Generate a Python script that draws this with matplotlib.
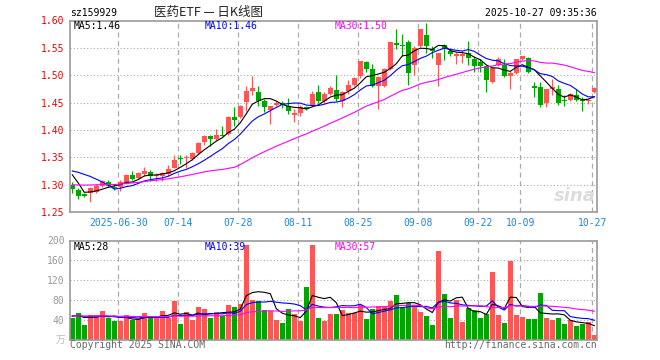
import numpy as np
import pandas as pd
import matplotlib.pyplot as plt

# sz159929 daily bars, 88 sessions ending 2025-10-27
opens = [1.300, 1.290, 1.283, 1.284, 1.287, 1.298, 1.305, 1.296, 1.296, 1.302,
         1.318, 1.312, 1.319, 1.323, 1.315, 1.315, 1.320, 1.331, 1.348, 1.348,
         1.346, 1.358, 1.378, 1.389, 1.384, 1.390, 1.393, 1.423, 1.423, 1.451,
         1.471, 1.469, 1.452, 1.436, 1.445, 1.450, 1.443, 1.428, 1.431, 1.441,
         1.444, 1.470, 1.452, 1.466, 1.473, 1.453, 1.471, 1.483, 1.498, 1.524,
         1.511, 1.480, 1.480, 1.511, 1.559, 1.556, 1.560, 1.519, 1.553, 1.574,
         1.548, 1.518, 1.555, 1.544, 1.536, 1.536, 1.541, 1.530, 1.524, 1.516,
         1.487, 1.518, 1.518, 1.498, 1.504, 1.529, 1.532, 1.481, 1.478, 1.449,
         1.475, 1.474, 1.455, 1.454, 1.463, 1.454, 1.452, 1.469]
highs = [1.304, 1.293, 1.285, 1.296, 1.301, 1.309, 1.309, 1.301, 1.309, 1.320,
         1.325, 1.323, 1.333, 1.326, 1.321, 1.324, 1.335, 1.354, 1.354, 1.354,
         1.359, 1.378, 1.391, 1.390, 1.402, 1.408, 1.425, 1.441, 1.446, 1.480,
         1.498, 1.481, 1.456, 1.444, 1.452, 1.453, 1.459, 1.438, 1.446, 1.444,
         1.472, 1.483, 1.470, 1.481, 1.501, 1.472, 1.492, 1.497, 1.526, 1.526,
         1.521, 1.499, 1.513, 1.560, 1.585, 1.576, 1.565, 1.553, 1.585, 1.595,
         1.553, 1.541, 1.557, 1.550, 1.543, 1.544, 1.563, 1.535, 1.529, 1.518,
         1.514, 1.533, 1.529, 1.507, 1.530, 1.536, 1.533, 1.487, 1.487, 1.475,
         1.493, 1.483, 1.463, 1.467, 1.474, 1.460, 1.457, 1.478]
lows = [1.284, 1.274, 1.278, 1.269, 1.285, 1.296, 1.295, 1.291, 1.289, 1.301,
        1.309, 1.310, 1.316, 1.307, 1.306, 1.307, 1.316, 1.330, 1.338, 1.331,
        1.345, 1.356, 1.372, 1.371, 1.382, 1.388, 1.390, 1.408, 1.422, 1.434,
        1.463, 1.444, 1.433, 1.411, 1.443, 1.440, 1.429, 1.415, 1.425, 1.437,
        1.443, 1.450, 1.450, 1.464, 1.452, 1.442, 1.466, 1.481, 1.495, 1.505,
        1.478, 1.439, 1.478, 1.510, 1.548, 1.535, 1.482, 1.501, 1.552, 1.541,
        1.532, 1.480, 1.527, 1.535, 1.521, 1.522, 1.518, 1.506, 1.506, 1.470,
        1.486, 1.516, 1.496, 1.474, 1.503, 1.527, 1.504, 1.461, 1.442, 1.441,
        1.463, 1.445, 1.444, 1.452, 1.452, 1.434, 1.447, 1.467]
closes = [1.292, 1.280, 1.280, 1.293, 1.298, 1.307, 1.298, 1.293, 1.305, 1.318,
          1.310, 1.321, 1.325, 1.315, 1.317, 1.321, 1.329, 1.345, 1.346, 1.350,
          1.358, 1.376, 1.389, 1.384, 1.391, 1.389, 1.423, 1.419, 1.444, 1.472,
          1.477, 1.452, 1.441, 1.444, 1.450, 1.446, 1.435, 1.431, 1.441, 1.438,
          1.466, 1.453, 1.466, 1.477, 1.456, 1.470, 1.483, 1.495, 1.526, 1.512,
          1.481, 1.497, 1.511, 1.560, 1.556, 1.553, 1.504, 1.550, 1.584, 1.553,
          1.544, 1.541, 1.548, 1.539, 1.539, 1.539, 1.532, 1.516, 1.516, 1.491,
          1.513, 1.529, 1.498, 1.504, 1.529, 1.536, 1.505, 1.477, 1.446, 1.474,
          1.478, 1.449, 1.453, 1.466, 1.455, 1.452, 1.455, 1.476]
# volume, 万手
volumes = [45, 55, 30, 51, 51, 58, 45, 38, 38, 51,
           41, 42, 54, 46, 47, 58, 45, 79, 32, 56,
           40, 66, 62, 44, 56, 49, 70, 66, 72, 190,
           80, 79, 60, 58, 40, 34, 62, 52, 39, 106,
           190, 44, 39, 52, 52, 60, 55, 55, 70, 42,
           62, 68, 68, 78, 90, 66, 75, 68, 57, 48,
           30, 178, 92, 45, 81, 36, 65, 60, 45, 53,
           137, 50, 34, 158, 50, 46, 42, 42, 95, 44,
           40, 44, 32, 41, 28, 32, 36, 10]

# sessions before the window (estimated from where the MA lines start)
prior_closes = [1.292, 1.288, 1.285, 1.290, 1.294, 1.296, 1.291, 1.284, 1.280, 1.283,
                1.286, 1.282, 1.279, 1.281, 1.285, 1.288, 1.292, 1.290, 1.286, 1.293,
                1.305, 1.318, 1.330, 1.348, 1.359, 1.355, 1.365, 1.290, 1.288]
prior_volumes = [50, 46, 53, 48, 44, 52, 49, 47, 55, 51, 45, 48, 50, 53, 46,
                 44, 49, 52, 47, 50, 48, 51, 46, 53, 49, 47, 52, 50, 48]

# values printed in the legends
price_ma_text = ['1.46', '1.46', '1.50']
vol_ma_text = ['28', '39', '57']

tick_labels = ['2025-06-30', '07-14', '07-28', '08-11', '08-25',
               '09-08', '09-22', '10-09', '10-27']
tick_index = [8, 18, 28, 38, 48, 58, 68, 75, 87]

RED = '#ff5555'
GREEN = '#00a600'
GRID = '#aaaaaa'
MONO = 'DejaVu Sans Mono'

n = len(closes)
x = np.arange(n)
o = np.array(opens)
c = np.array(closes)
up = c >= o
colors = [RED if u else GREEN for u in up]

cs = pd.Series(prior_closes + closes)
vs = pd.Series(prior_volumes + volumes)
k = len(prior_closes)
ma = {p: cs.rolling(p).mean().values[k:] for p in (5, 10, 30)}
vma = {p: vs.rolling(p).mean().values[k:] for p in (5, 10, 30)}
ma_colors = {5: 'black', 10: '#0000ff', 30: '#ff00ff'}

W, H = 660, 360
fig = plt.figure(figsize=(6.6, 3.6), dpi=100)
fig.patch.set_facecolor('white')


def fx(px):
    return px / W


def fy(py):
    return 1 - py / H


left, right = 70, 597.3
ax = fig.add_axes([fx(left), fy(212), (right - left) / W, (212 - 20.5) / H])
axv = fig.add_axes([fx(left), fy(340.3), (right - left) / W, (340.3 - 240.5) / H])
grid_x = [t - 0.33 for t in tick_index]

for a in (ax, axv):
    a.set_xlim(-0.383, 87.5)
    for s in a.spines.values():
        s.set_color('#999999')
        s.set_linewidth(1.2)
    for gx in grid_x:
        a.axvline(gx, color=GRID, lw=0.9, ls=(0, (4, 3)), zorder=0)
    a.tick_params(length=0)

# price panel
ax.set_ylim(1.25, 1.60)
yt = [1.25, 1.30, 1.35, 1.40, 1.45, 1.50, 1.55, 1.60]
for yv in yt[1:-1]:
    ax.axhline(yv, color=GRID, lw=0.8, ls=(0, (1, 2)), zorder=0)
ax.set_yticks(yt)
ax.set_yticklabels(['%.2f' % v for v in yt], color='#ee0000',
                   fontsize=7, family=MONO)
ax.tick_params(axis='y', pad=4)
ax.set_xticks(grid_x)
ax.set_xticklabels(tick_labels, color='#1f87d6', fontsize=7, family=MONO)
ax.tick_params(axis='x', pad=4)

ax.vlines(x, lows, highs, colors=colors, lw=0.8, zorder=2)
body = np.maximum(np.abs(c - o), 0.0008)
ax.bar(x, body, bottom=np.minimum(o, c), width=0.75, color=colors,
       zorder=2, linewidth=0)
for p in (5, 10, 30):
    ax.plot(x, ma[p], color=ma_colors[p], lw=0.8, zorder=3)

ax.text(fx(596), fy(196), 'sina', transform=fig.transFigure, ha='right',
        va='center', fontsize=13, style='italic', weight='bold',
        color='#dcdcdc', zorder=0.5)

# volume panel
axv.set_ylim(0, 200)
for yv in (40, 80, 120, 160):
    axv.axhline(yv, color=GRID, lw=0.8, ls=(0, (1, 2)), zorder=0)
axv.set_yticks([0, 40, 80, 120, 160, 200])
axv.set_yticklabels(['', '40', '80', '120', '160', '200'], color='#999999',
                    fontsize=7, family=MONO)
axv.tick_params(axis='y', pad=4)
axv.set_xticks([])
axv.bar(x, volumes, width=0.8, color=colors, linewidth=0, zorder=2)
for p in (5, 10, 30):
    axv.plot(x, vma[p], color=ma_colors[p], lw=0.8, zorder=3)

# texts
fig.text(fx(70), fy(13), 'sz159929', ha='left', va='center', fontsize=7,
         family=MONO, color='black')
fig.text(fx(209), fy(12.5), '医药ETF — 日K线图', ha='center', va='center',
         fontsize=9, family=['Noto Sans CJK SC', 'DejaVu Sans'], color='#222222')
fig.text(fx(597), fy(13), '2025-10-27 09:35:36', ha='right', va='center',
         fontsize=7, family=MONO, color='black')

legend_x = [74, 205, 335]
for lx, p, pt, vt in zip(legend_x, (5, 10, 30), price_ma_text, vol_ma_text):
    fig.text(fx(lx), fy(26), 'MA%d:%s' % (p, pt), ha='left',
             va='center', fontsize=7, family=MONO, color=ma_colors[p])
    fig.text(fx(lx), fy(246.5), 'MA%d:%s' % (p, vt), ha='left',
             va='center', fontsize=7, family=MONO, color=ma_colors[p])

fig.text(fx(65), fy(340), '万', ha='right', va='center', fontsize=7,
         family=['Noto Sans CJK SC', 'DejaVu Sans'], color='#bbbbbb')
fig.text(fx(70), fy(345.5), 'Copyright 2025 SINA.COM', ha='left',
         va='center', fontsize=7, family=MONO, color='#666666')
fig.text(fx(597), fy(345.5), 'http://finance.sina.com.cn', ha='right',
         va='center', fontsize=7, family=MONO, color='#666666')

fig.savefig('out.png', dpi=100)
